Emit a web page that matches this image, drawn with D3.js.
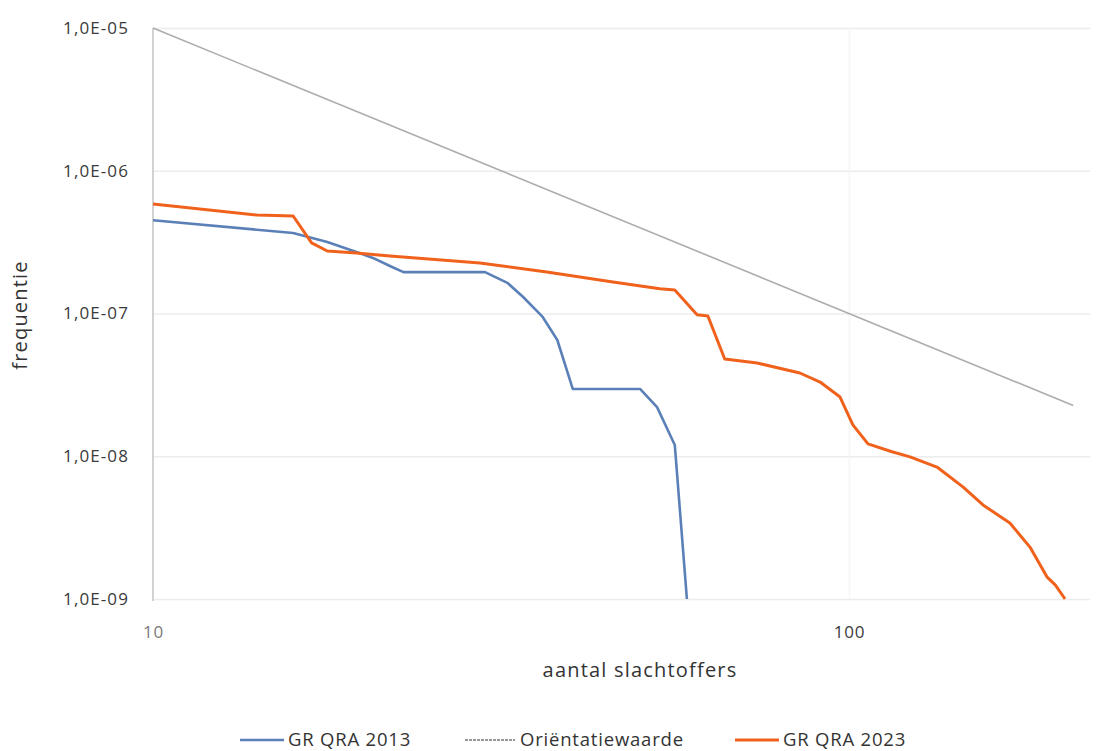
<!DOCTYPE html>
<html>
<head>
<meta charset="utf-8">
<script src="https://cdn.jsdelivr.net/npm/d3@7"></script>
<style>
  body { margin: 0; background: #fff; }
  text { font-family: "Open Sans", "Noto Sans", sans-serif; }
</style>
</head>
<body>
<svg id="chart" width="1118" height="751"></svg>
<script>
// aantal slachtoffers (N) en frequentie per reeks
var qra2013N = [10, 15.9, 17.8, 19.6, 20.7, 21.9, 22.9, 30.0, 32.3, 34.0, 36.3, 38.1, 40.1, 50.1, 53.0, 56.2, 58.5];
var qra2013F = [4.5e-7, 3.66e-7, 3.17e-7, 2.7e-7, 2.45e-7, 2.15e-7, 1.95e-7, 1.95e-7, 1.64e-7, 1.31e-7, 9.46e-8, 6.52e-8, 2.96e-8, 2.96e-8, 2.21e-8, 1.2e-8, 1.0e-9];

var orientN = [10, 210];
var orientF = [1.0e-5, 2.27e-8];

var qra2023N = [10, 14.1, 15.9, 16.9, 17.8, 19.6, 21.9, 29.5, 36.8, 45.8, 53.5, 56.2, 60.5, 62.7, 66.3, 73.8, 85.0, 90.9, 97.1, 101.3, 106.5, 115, 122.4, 133.8, 145.8, 155.8, 170.3, 182, 192.5, 198, 204.4];
var qra2023F = [5.85e-7, 4.9e-7, 4.82e-7, 3.12e-7, 2.74e-7, 2.65e-7, 2.53e-7, 2.26e-7, 1.95e-7, 1.66e-7, 1.49e-7, 1.46e-7, 9.8e-8, 9.6e-8, 4.8e-8, 4.5e-8, 3.83e-8, 3.31e-8, 2.6e-8, 1.66e-8, 1.22e-8, 1.08e-8, 9.9e-9, 8.4e-9, 6.1e-9, 4.56e-9, 3.41e-9, 2.31e-9, 1.43e-9, 1.25e-9, 1.0e-9];

var yTicks = [1e-9, 1e-8, 1e-7, 1e-6, 1e-5];
var xTicks = [10, 100];

var series = [
  { name: "GR QRA 2013", n: qra2013N, f: qra2013F, color: "#5b80b8", width: 2.6 },
  { name: "Oriëntatiewaarde", n: orientN, f: orientF, color: "#adadad", width: 1.6 },
  { name: "GR QRA 2023", n: qra2023N, f: qra2023F, color: "#f0621c", width: 3 }
];

var plotLeft = 153, plotRight = 1090, plotTop = 28, plotBottom = 599;

var x = d3.scaleLog().domain([10, 222]).range([plotLeft, plotRight]);
var y = d3.scaleLog().domain([1e-9, 1e-5]).range([plotBottom, plotTop]);

var svg = d3.select("#chart");

// horizontale rasterlijnen
svg.append("g")
  .attr("transform", "translate(" + plotLeft + ",0)")
  .call(d3.axisLeft(y).tickValues(yTicks).tickSize(-(plotRight - plotLeft)).tickFormat(""))
  .call(function(g) { g.select(".domain").remove(); })
  .selectAll("line").attr("stroke", "#ececec").attr("stroke-width", 1.5);

// verticale rasterlijn bij 100
svg.append("g")
  .attr("transform", "translate(0," + plotBottom + ")")
  .call(d3.axisBottom(x).tickValues([100]).tickSize(-(plotBottom - plotTop)).tickFormat(""))
  .call(function(g) { g.select(".domain").remove(); })
  .selectAll("line").attr("stroke", "#f6f6f6").attr("stroke-width", 1.5);

// y-as lijn
svg.append("line")
  .attr("x1", plotLeft).attr("x2", plotLeft)
  .attr("y1", plotTop).attr("y2", plotBottom + 2)
  .attr("stroke", "#d2d2d2").attr("stroke-width", 2);

// y-as labels
var yAxis = svg.append("g")
  .attr("transform", "translate(" + plotLeft + ",0)")
  .call(d3.axisLeft(y).tickValues(yTicks).tickSize(0).tickPadding(24)
    .tickFormat(function(d) {
      var e = Math.round(Math.log10(d));
      return "1,0E-" + (e > -10 ? "0" : "") + (-e);
    }));
yAxis.select(".domain").remove();
yAxis.selectAll("text")
  .attr("fill", "#3a3a3a")
  .style("font-size", "17px")
  .style("letter-spacing", "1.1px");

// x-as labels
var xAxis = svg.append("g")
  .attr("transform", "translate(0," + plotBottom + ")")
  .call(d3.axisBottom(x).tickValues(xTicks).tickSize(0).tickPadding(27).tickFormat(d3.format("d")));
xAxis.select(".domain").remove();
xAxis.selectAll("text")
  .attr("fill", function(d) { return d === 10 ? "#7a7a7a" : "#3a3a3a"; })
  .style("font-size", "17px")
  .style("letter-spacing", "0.8px");

// lijnen
var line = d3.line()
  .x(function(d) { return x(d[0]); })
  .y(function(d) { return y(d[1]); });

series.forEach(function(s) {
  svg.append("path")
    .datum(s.n.map(function(v, i) { return [v, s.f[i]]; }))
    .attr("fill", "none")
    .attr("stroke", s.color)
    .attr("stroke-width", s.width)
    .attr("stroke-linejoin", "round")
    .attr("d", line);
});

// as titels
svg.append("text")
  .attr("x", 640).attr("y", 677)
  .attr("text-anchor", "middle")
  .attr("fill", "#333")
  .style("font-size", "20px")
  .style("letter-spacing", "1.2px")
  .text("aantal slachtoffers");

svg.append("text")
  .attr("transform", "translate(27,315) rotate(-90)")
  .attr("text-anchor", "middle")
  .attr("fill", "#333")
  .style("font-size", "20px")
  .style("letter-spacing", "1.2px")
  .text("frequentie");

// legenda
var legendX = [240, 465, 735];
var legend = svg.append("g");
series.forEach(function(s, i) {
  var g = legend.append("g").attr("transform", "translate(" + legendX[i] + ",740)");
  g.append("line")
    .attr("x1", 0).attr("x2", i === 1 ? 50 : 44)
    .attr("y1", 0).attr("y2", 0)
    .attr("stroke", i === 1 ? "#777" : s.color)
    .attr("stroke-width", i === 1 ? 1.5 : s.width)
    .attr("stroke-dasharray", i === 1 ? "3,1" : null);
  g.append("text")
    .attr("x", i === 1 ? 55 : 48).attr("y", 6)
    .attr("fill", "#333")
    .style("font-size", "18.5px")
    .style("letter-spacing", "0.8px")
    .text(s.name);
});
</script>
</body>
</html>
